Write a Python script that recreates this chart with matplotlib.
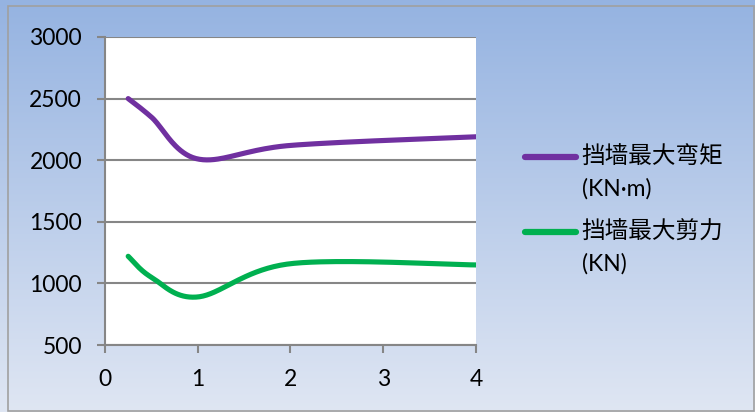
import matplotlib
matplotlib.use("Agg")
import matplotlib.pyplot as plt
from matplotlib.lines import Line2D
from matplotlib.patches import Rectangle
import numpy as np

plt.rcParams['font.family'] = ['Lato', 'Noto Sans CJK SC', 'DejaVu Sans']

# wall distance vs. max moment / max shear
x_vals = [0.25, 0.5, 1.0, 2.0, 4.0]
moment = [2500, 2350, 2010, 2120, 2190]
shear = [1220, 1050, 890, 1160, 1150]
names = ["挡墙最大弯矩", "挡墙最大剪力"]
units = ["(KN·m)", "(KN)"]
colors = ["#7030a0", "#00b050"]
yticks = [500, 1000, 1500, 2000, 2500, 3000]
xticks = [0, 1, 2, 3, 4]


def smooth(xs, ys, n=40):
    # bezier smoothing through each point, excel style
    xs = np.asarray(xs, float)
    ys = np.asarray(ys, float)
    px = np.concatenate([[xs[0]], xs, [xs[-1]]])
    py = np.concatenate([[ys[0]], ys, [ys[-1]]])
    ox, oy = [], []
    for i in range(len(xs) - 1):
        p0 = np.array([px[i + 1], py[i + 1]])
        p3 = np.array([px[i + 2], py[i + 2]])
        c1 = p0 + (p3 - np.array([px[i], py[i]])) / 6
        c2 = p3 - (np.array([px[i + 3], py[i + 3]]) - p0) / 6
        t = np.linspace(0, 1, n)[:, None]
        pts = ((1 - t) ** 3 * p0 + 3 * (1 - t) ** 2 * t * c1
               + 3 * (1 - t) * t ** 2 * c2 + t ** 3 * p3)
        ox.extend(pts[:, 0])
        oy.extend(pts[:, 1])
    return ox, oy


W, H = 755, 412
fig = plt.figure(figsize=(W / 100, H / 100), dpi=100)

# gradient backdrop, darker blue on top
bg = fig.add_axes([0, 0, 1, 1], zorder=-10)
grad = np.linspace(0, 1, 256)[:, None]
cmap = matplotlib.colors.LinearSegmentedColormap.from_list(
    "bg", ["#95b3e1", "#dfe6f3"])
bg.imshow(grad, aspect="auto", cmap=cmap, extent=[0, 1, 0, 1],
          origin="upper")
bg.set_xlim(0, 1)
bg.set_ylim(0, 1)
bg.axis("off")
bg.add_patch(Rectangle((8 / W, 1 / H), 746 / W, 405 / H, fill=False,
                       edgecolor="#a0a0a0", lw=1.2))

ax = fig.add_axes([105 / W, 1 - 345 / H, (476 - 105) / W, (345 - 37) / H])
ax.set_facecolor("white")

for ys, c in zip([moment, shear], colors):
    sx, sy = smooth(x_vals, ys)
    ax.plot(sx, sy, color=c, lw=3.7, solid_capstyle="round", zorder=3)

ax.set_xlim(0, 4)
ax.set_ylim(500, 3000)
ax.set_xticks(xticks)
ax.set_yticks(yticks)
ax.yaxis.grid(True, color="#868686", lw=1.5)
ax.set_axisbelow(True)
for s in ["top", "right"]:
    ax.spines[s].set_visible(False)
for s in ["left", "bottom"]:
    ax.spines[s].set_color("#868686")
    ax.spines[s].set_linewidth(1.5)
ax.tick_params(axis="both", colors="#868686", width=1.5, length=5.5,
               labelcolor="black", labelsize=16.5)
ax.tick_params(axis="x", pad=12)
ax.tick_params(axis="y", pad=11)

# legend
for i, (name, unit, c) in enumerate(zip(names, units, colors)):
    y = 157 + i * 75
    fig.add_artist(Line2D([525 / W, 576 / W], [1 - y / H, 1 - y / H],
                          color=c, lw=4.5, solid_capstyle="round"))
    fig.text(581 / W, 1 - y / H, name, fontsize=17, va="center",
             ha="left")
    fig.text(582 / W, 1 - (y + 32) / H, unit, fontsize=16.5,
             va="center", ha="left")

fig.savefig("out.png", dpi=100)
